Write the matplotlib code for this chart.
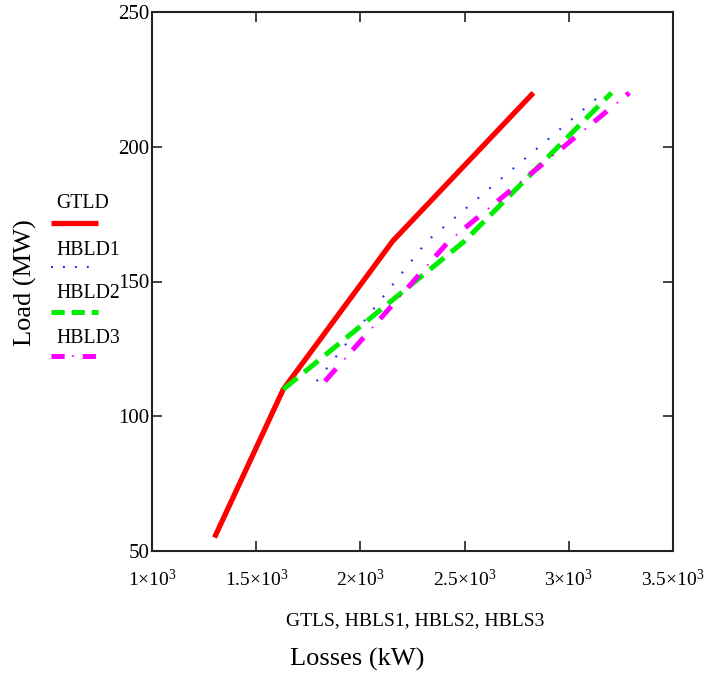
import matplotlib
matplotlib.use("Agg")
import matplotlib.pyplot as plt
from matplotlib.lines import Line2D

plt.rcParams["font.family"] = ["Liberation Serif", "DejaVu Serif"]
plt.rcParams["mathtext.fontset"] = "custom"
plt.rcParams["mathtext.rm"] = "Liberation Serif"
plt.rcParams["mathtext.it"] = "Liberation Serif:italic"
plt.rcParams["lines.scale_dashes"] = False

# Losses (kW) vs load (MW) for each scheme
gtls = [1300, 1630, 2155, 2830]
gtld = [55, 110, 165, 220]

hbls1 = [1790, 2320, 3165]
hbld1 = [113, 165, 220]

hbls2 = [1630, 2500, 3205]
hbld2 = [110, 165, 220]

hbls3 = [1830, 2425, 3290]
hbld3 = [113, 165, 220]

x_ticks = [1000, 1500, 2000, 2500, 3000, 3500]
x_tick_labels = ["1×10$^{3}$", "1.5×10$^{3}$", "2×10$^{3}$",
                 "2.5×10$^{3}$", "3×10$^{3}$", "3.5×10$^{3}$"]
y_ticks = [50, 100, 150, 200, 250]

W, H = 712, 683
fig = plt.figure(figsize=(W / 100, H / 100), dpi=100)
ax = fig.add_axes([152 / W, 1 - 551 / H, (673 - 152) / W, (551 - 12) / H])

RED, BLUE, GREEN, MAGENTA = "#ff0000", "#2b2bff", "#00ee00", "#ff00ff"

ax.plot(gtls, gtld, color=RED, lw=3.8, solid_capstyle="butt")
ax.plot(hbls1, hbld1, color=BLUE, lw=1.5, linestyle=(0, (1.4, 9.6)))
ax.plot(hbls2, hbld2, color=GREEN, lw=3.6, linestyle=(0, (13, 6.5)))
ax.plot(hbls3, hbld3, color=MAGENTA, lw=3.6, linestyle=(0, (12, 18)))
ax.plot(hbls3, hbld3, color=MAGENTA, lw=1.2, linestyle=(9, (1.4, 28.6)))

ax.set_xlim(1000, 3500)
ax.set_ylim(50, 250)
ax.set_xticks(x_ticks)
ax.set_xticklabels(x_tick_labels)
ax.set_yticks(y_ticks)
ax.set_yticklabels([str(v) for v in y_ticks])

for s in ax.spines.values():
    s.set_linewidth(1.5)
    s.set_color("#222222")
ax.tick_params(direction="in", length=7.5, width=1.2, color="#222222",
               top=True, right=True)
ax.tick_params(axis="x", pad=13, labelsize=14)
ax.tick_params(axis="y", pad=2, labelsize=15)

fig.text(415 / W, 1 - 621 / H, "GTLS, HBLS1, HBLS2, HBLS3",
         ha="center", va="center", fontsize=14)
fig.text(357 / W, 1 - 659 / H, "Losses (kW)",
         ha="center", va="center", fontsize=19)
fig.text(25 / W, 1 - 283 / H, "Load (MW)", rotation=90,
         ha="center", va="center", fontsize=19)

# Legend: label text above a short line sample
legend_items = [
    ("GTLD", 204, 223, [dict(color=RED, lw=3.8, solid_capstyle="butt")]),
    ("HBLD1", 250, 267, [dict(color=BLUE, lw=1.5, linestyle=(0, (1.4, 7.2)))]),
    ("HBLD2", 293, 312, [dict(color=GREEN, lw=3.6, linestyle=(0, (9.5, 5)))]),
    ("HBLD3", 338, 356, [dict(color=MAGENTA, lw=3.6, linestyle=(0, (9.5, 13))),
                         dict(color=MAGENTA, lw=1.2, linestyle=(7.5, (1.4, 21.1)))]),
]
for label, ty, ly, styles in legend_items:
    fig.text(56 / W, 1 - ty / H, label, ha="left", va="center", fontsize=14.2)
    for st in styles:
        fig.add_artist(Line2D([51 / W, 98 / W], [1 - ly / H, 1 - ly / H],
                              transform=fig.transFigure, **st))

fig.savefig("out.png", dpi=100)
